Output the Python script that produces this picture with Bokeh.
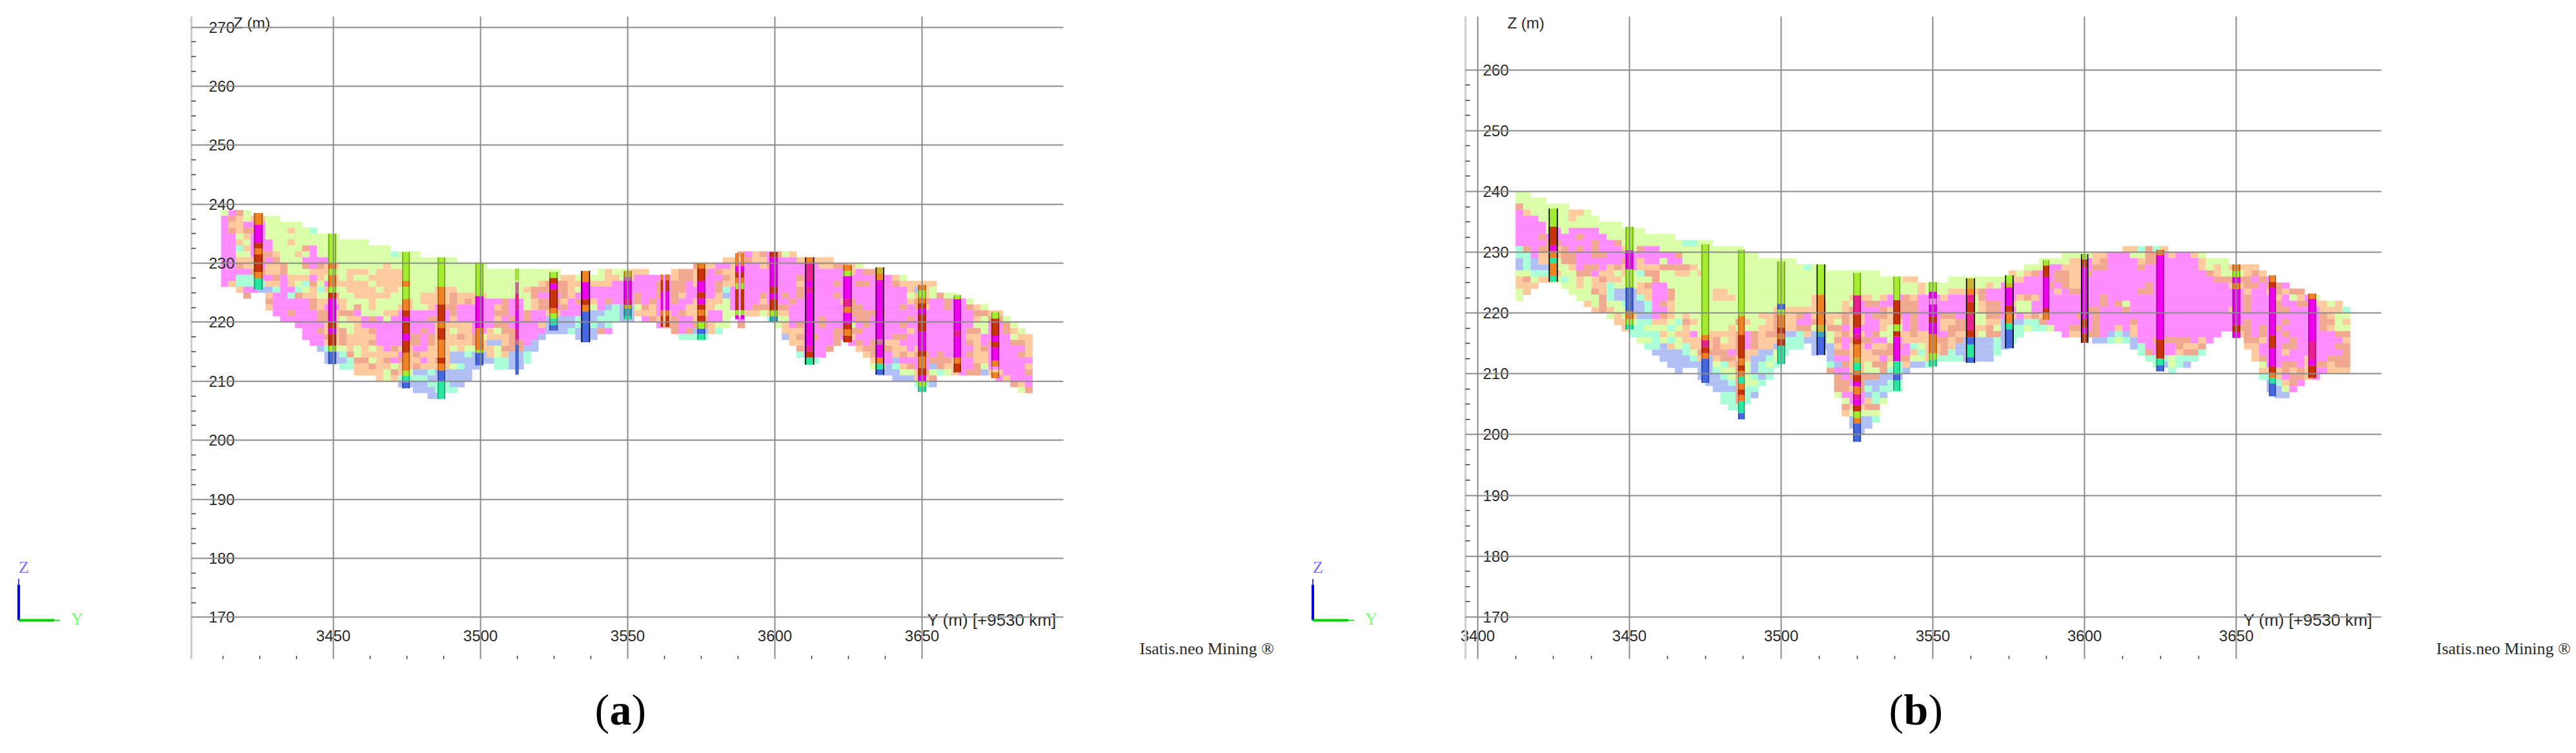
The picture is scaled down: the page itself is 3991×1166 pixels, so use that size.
from bokeh.plotting import figure
from bokeh.layouts import row
from bokeh.models import Range1d, FixedTicker, Label, Arrow, ColumnDataSource
from bokeh.embed import file_html
from bokeh.resources import INLINE

# ---- block model classes -------------------------------------------------
cell_colors = {"G": "#DAFFA8", "O": "#FFCB9E", "S": "#F0A890", "P": "#FF8CFF", "M": "#A8FFD8", "B": "#B0C0F5"}
# ---- drill-hole classes --------------------------------------------------
hole_colors = {"f": "#A2EE2E", "o": "#F08224", "r": "#C9330A", "m": "#EE00EE", "t": "#28E8A0",
               "b": "#4468E0", "h": "#E82090", "y": "#C8B432", "v": "#C87098", "c": "#30A8B8"}

# each row: bench top Z, then "column+class" runs (a run lasts until the next token, "-" = empty)
rows_a = [
 (239, "0G 1P 2S 3G 4-"),
 (238, "0P 1S 2O 3G 4O 6G 8-"),
 (237, "0P 1O 3P 6G 11-"),
 (236, "0P 1S 2O 3S 5P 6G 9O 10G 12M 13-"),
 (235, "0P 2G 3O 4P 6G 16-"),
 (234, "0P 2O 3G 4P 7G 9O 10G 20-"),
 (233, "0P 2M 3O 4P 7G 11S 12P 13G 23-"),
 (232, "0P 2G 4P 5S 7O 8G 10O 11G 12P 13G 23M 24G 27- 70S 71P 72O 73S 74P 75S 76G 77O 78-"),
 (231, "0P 2O 5S 6P 7S 8G 11P 15G 32- 68O 71S 72O 74P 78O 83-"),
 (230, "0P 2S 3O 5P 6O 8S 9G 11S 12P 13S 14O 16G 22O 23G 36- 64S 65O 67P 69O 70P 73O 74S 75P 81O 83S 85O 86G 87-"),
 (229, "0P 4S 6O 8S 9G 12O 15G 17O 20G 21O 25G 46- 51G 52O 53G 55O 58- 61O 62S 64O 65S 66P 67S 68O 70P 85O 86P 87S 89-"),
 (228, "0P 2M 5P 7S 8P 9O 12P 13O 14G 15O 16G 17O 18G 20O 25G 46O 48G 49O 50G 52O 54G 55O 56P 61O 62S 64O 65P 68S 69O 70P 78S 79P 91O 92G 93-"),
 (227, "0P 1O 2M 6O 8P 9O 10G 11M 12S 13G 14P 15O 20G 21O 25G 43O 44S 47O 49P 50O 53P 59S 60P 61S 63P 64O 65P 67S 68O 70P 78O 79P 83S 84P 86S 88P 91S 92O 97-"),
 (226, "2O 3P 5B 7M 8P 10M 11G 12O 13M 14O 15G 17O 21G 22O 24G 29O 32G 41O 42S 47O 48G 49P 59S 60P 61S 63P 67S 68M 69P 78S 79P 93O 94B 95O 96G 97-"),
 (225, "3S 4- 6O 7P 9M 10S 11O 13G 15S 16G 18O 23G 27O 31S 32O 36G 42S 43P 46S 47O 48P 56S 57P 59S 60P 61S 62O 63P 67O 68B 69P 73S 74P 76S 77P 78S 79P 83S 84P 93G 94O 96G 97S 98G 100-"),
 (224, "6S 7P 12S 13O 17G 20O 21G 25O 26G 27O 31S 32O 33S 34O 35P 38S 39P 41G 42O 43S 46O 47P 48S 50O 51P 52S 53P 56S 57P 58S 59P 61S 62P 64O 68G 69P 73O 74P 77S 78P 84O 85S 86P 93O 94S 96P 98S 99P 101G 102-"),
 (223, "6O 7P 12S 13O 14P 16O 17G 18S 19G 20O 21G 24O 26G 28O 29P 30S 32P 37O 38S 39P 41G 42O 43S 45P 46S 47P 50G 51P 52B 53M 54B 56G 57S 58O 59P 63O 67G 69P 72S 77P 85S 87P 92S 93P 94S 95O 96P 98S 99P 101S 102O 103G 104-"),
 (222, "7P 9S 10P 13S 15O 16S 18P 19G 22O 24P 31S 32P 37S 39P 41S 42P 44O 46P 49B 52M 54B 56O 59P 60O 61P 62S 63O 66P 68G 71O 73G 74O 77P 85S 90P 102S 104O 106-"),
 (221, "8P 13S 15O 16G 17O 19P 20S 21P 22G 23P 28S 30P 31O 32P 37O 38P 39S 40P 41S 42P 44B 48M 49B 51M 54B 56- 57P 58S 59O 61S 62P 64O 65S 66P 68G 69- 70P 71- 74M 75G 77P 81S 82P 86S 88P 93S 94P 102O 103G 104S 106G 107-"),
 (220, "10P 14O 16G 18O 19P 29O 34P 37S 39P 43O 44B 48M 49B 50M 51B 52M 53- 59P 60S 62P 64S 66O 67G 69- 70S 71- 75G 76O 77P 78S 79P 81S 82P 85G 86P 87S 88P 92S 93P 102G 104P 106S 107G 108-"),
 (219, "11P 13S 14O 16S 17G 18O 20S 21P 27S 28P 29O 31G 32O 34P 36O 37G 38S 40P 44B 47M 48B 51S 52P 53- 61S 62P 63S 64B 66O 67M 68- 76O 79P 83S 87P 93O 94P 101S 103G 104P 106S 107O 108G 109-"),
 (218, "11P 14S 15O 16S 17O 21P 25S 27P 28S 29O 32S 33O 34S 35G 36O 39S 40P 43B 44- 48B 51- 62M 66- 76B 77O 78S 79P 80S 81P 83S 84P 85O 86P 91S 93P 101O 103P 107G 108O 110-"),
 (217, "12P 14O 16S 17O 20S 21P 25S 27P 28S 29O 34S 35O 36B 38O 39S 41P 42B 43- 77O 79P 83S 84- 85P 86S 87P 88S 89P 90O 92P 101S 102O 103P 104S 105P 107S 109O 110-"),
 (216, "13B 14M 15G 17O 18G 19O 20G 21O 22P 23S 24O 26P 28O 31G 32O 33G 35O 37G 38S 41B 43- 78S 79P 82S 83- 86O 87S 91O 93P 94O 95P 102O 103S 104P 109O 110-"),
 (215, "14B 16M 17S 18G 19O 24P 25O 26S 27O 31B 33M 34B 36O 37G 38O 39B 41M 42- 78M 79P 82- 87O 88S 89P 91O 92S 93O 94S 96P 97S 98P 101S 102O 104P 108S 109O 110-"),
 (214, "14B 17M 18S 20G 21O 22S 23P 24S 25O 27P 28O 29S 30O 31B 37M 39B 41M 42- 79M 81- 88O 89P 91B 92P 96S 99O 100P 102O 104P 110-"),
 (213, "16M 18O 20S 21O 23G 24O 26S 27O 31G 32M 33B 35- 37M 39B 41- 88G 89M 90B 91M 92O 93S 94P 96B 97S 98O 100P 102S 103G 104P 109O 110-"),
 (212, "18O 22G 23S 24O 25G 26B 28M 29B 34- 89B 92G 94O 95S 96G 97M 98G 99O 100P 101S 103B 104O 106P 109S 110-"),
 (211, "21O 22G 23O 24M 28B 34- 91B 94O 96S 97- 105P 106O 107P 110-"),
 (210, "24B 28M 31B 33- 94M 96B 97- 107S 108O 109P 110-"),
 (209, "26B 29M 32- 108G 109S 110-"),
 (208, "28B 30-"),
]

rows_b = [
 (240, "0G 2-"),
 (239, "0G 4-"),
 (238, "0S 1G 7-"),
 (237, "0P 1O 2G 7O 9G 10-"),
 (236, "0P 3G 7O 8G 11-"),
 (235, "0P 4G 14-"),
 (234, "0P 4G 5P 6G 7P 11G 17-"),
 (233, "0P 3S 4P 8S 9P 12G 21-"),
 (232, "0P 4S 6P 10S 11P 13S 14G 22M 24G 26-"),
 (231, "0M 1S 2P 3S 5O 6S 7P 8S 9P 10S 11P 14O 15G 16S 17P 19G 30- 80O 82M 83S 84M 85O 86-"),
 (230, "0M 2P 3O 6S 8P 10S 12P 21S 22G 32- 72G 76O 78P 81G 83S 85P 86O 87P 89O 90G 91-"),
 (229, "0B 1M 2B 3O 5G 6S 8P 14S 15P 16O 17P 19G 20P 22G 37- 69G 73O 75P 76O 77S 78P 82O 83S 85P 90O 91G 94-"),
 (228, "0B 1M 2B 5G 7O 8P 9S 11P 12O 13S 14O 15P 16O 19S 23O 24G 38M 39G 41- 67G 70P 72O 75P 76S 78P 82S 83P 90O 91G 92O 93G 94O 98-"),
 (227, "0G 2M 5O 6G 8S 10P 11O 13G 14O 15G 16M 17S 19G 21O 23G 24O 25G 48- 65O 66G 67O 68S 69P 71S 73O 75S 76P 91S 92O 93G 96O 97S 98O 99-"),
 (226, "0O 1S 2G 3O 5G 6M 7G 8O 9G 10O 11S 12O 14G 18S 19G 51O 53- 57G 65O 67P 71S 73O 75P 92S 95S 97P 98S 99P 100-"),
 (225, "0O 3- 6G 8O 9G 10O 12M 13G 16O 17S 18P 20G 53O 54G 62O 63G 64P 70S 71P 72S 73O 75P 83S 84P 94O 96S 98P 99S 101P 102-"),
 (224, "0G 1O 2- 7G 10S 11O 12M 13B 16O 18P 20S 21G 26O 28G 53O 54G 57O 61S 62P 71O 72P 73S 75P 82S 84P 96O 97P 99O 100S 101O 102S 104-"),
 (223, "0G 1- 8G 11S 12M 13B 16M 17O 18P 20S 21G 26O 29G 39O 40G 44O 47G 48O 49P 51S 52O 53P 56O 57P 60G 61S 62P 66O 67S 68O 69P 77S 78P 96S 97P 100O 101P 102G 103O 104P 105G 106-"),
 (222, "9O 10G 11S 12G 14M 15B 17M 18P 19S 20O 21G 39O 41G 43O 44G 45P 46S 48P 50S 53P 60G 61O 62S 64P 65O 66G 68P 77S 78P 79S 80G 81P 96S 97P 100S 101P 103S 105O 107G 108O 109-"),
 (221, "10O 11S 12O 13G 15B 17M 18P 20O 21G 34O 41G 43O 44S 45P 48S 49O 50S 53P 60G 61O 62S 64P 66G 68P 75S 77P 80S 81P 94O 95P 96S 97P 100S 102P 106O 109M 110-"),
 (220, "12G 13O 14G 15O 16B 18P 19S 20O 21G 22O 23G 32O 34S 35O 37S 38P 39O 43S 44O 46P 47S 49O 50S 51P 52S 53P 56S 58P 60G 62S 64P 65O 66P 67O 68S 69O 70P 74S 75P 76S 77P 106S 107O 108G 110-"),
 (219, "13O 15G 16M 18O 20G 21M 22S 23O 24G 29S 30O 31G 33O 34S 35O 37P 39S 41O 42G 43S 44O 46P 48O 51P 52S 53P 56O 58S 60G 62O 64B 67M 69S 70P 76S 77P 81S 82P 96S 97P 101S 102P 106S 108G 109O 110-"),
 (218, "14O 15M 17G 20M 21G 22O 23G 28O 29G 32O 34S 35O 37S 39G 41S 43P 44O 45P 48O 49G 51P 52S 53P 56O 57S 60O 62S 63G 64B 65M 67G 68M 70G 71P 73S 75P 76S 77P 79O 80P 81O 82P 95S 97P 98S 99P 100S 101P 106S 107O 108G 110-"),
 (217, "15M 19O 20G 21O 23P 24G 25O 29S 30P 31S 32O 33S 35B 37M 38O 39B 41G 42O 43S 44O 46P 47S 48G 50O 52S 53O 55P 57S 58O 61G 62S 64B 65M 67- 72P 73O 75S 77P 78B 79M 80B 81O 82P 93- 95O 96S 97P 98S 99P 101S 102P 108S 110-"),
 (216, "16G 18M 19G 20M 21G 22O 26S 27G 28O 29S 30P 31S 32O 35M 38B 41G 42S 43P 44S 47P 49G 50P 51O 55S 57O 58S 59B 63M 64B 65M 66- 76B 78M 79G 80M 81B 82P 84S 89P 90O 91P 92- 96S 98O 99P 102S 103P 109O 110-"),
 (215, "17M 19B 20O 21G 22M 23O 26S 27O 29S 30P 31S 32O 34B 35M 38- 39B 42O 43P 44O 46P 47O 49S 51P 52M 53G 54O 56S 57O 58B 63M 64B 65- 81B 82M 83P 87S 88O 90S 91- 96O 98P 101S 103P 108S 110-"),
 (214, "18B 22M 23G 24S 28P 29S 30O 32B 34G 35M 36- 39B 40- 41B 42S 44O 47S 50P 52O 53M 54O 56S 57M 58B 63M 64- 82M 83S 84P 87O 88S 90M 91- 97O 98P 101O 102P 109S 110-"),
 (213, "19B 23M 24O 25B 26O 27S 29O 31B 33M 34G 35- 41B 42P 44O 48P 49O 50S 52G 54O 55M 59B 63- 83M 86G 87M 90- 97O 98S 99P 104O 105P 107S 110-"),
 (212, "20B 26G 27M 28O 29S 30G 31B 32M 33G 34M 35- 41M 42B 43S 44O 46G 47S 49G 50M 51O 52B 54M 55- 84M 85B 86G 87M 88B 89- 98G 99P 101S 103P 104O 105S 107O 108S 110-"),
 (211, "21B 22- 24B 26M 27G 29S 30G 31B 32M 34- 41S 42P 44O 46G 48S 49M 51B 52- 86M 87- 98O 101S 102O 103S 104O 105P 107O 110-"),
 (210, "24B 27M 28G 29S 30G 31M 32B 33M 34- 42S 43P 44S 48B 51- 98M 100O 101P 102S 104O 105P 106-"),
 (209, "25B 28M 29S 30G 32M 33- 42S 44P 45S 46B 49M 51- 99B 100M 101O 102S 103P 104-"),
 (208, "26B 29S 30M 32- 42S 44O 45S 46M 47B 48M 51- 99B 101G 102P 103-"),
 (207, "27M 29S 30M 31B 32- 42G 43P 46B 47M 48B 49- 100B 102-"),
 (206, "27M 29S 30M 31- 43G 44P 46O 47M 48G 49-"),
 (205, "28M 30- 43S 44O 46S 48-"),
 (204, "43O 44G 48-"),
 (203, "44B 46B 47M 48-"),
 (202, "44B 47-"),
 (201, "45B 46-"),
]

# drill holes: Y, diameter on the plot, collar Z, black rim?, then class + Z of the segment's base
holes_a = [
 (3424.5, 3.0, 238.5, 0, "o236.5 m233.4 r232.5 o231.5 r228.5 o227.4 t225.5"),
 (3449.6, 2.7, 235.0, 0, "f230 o229 f228 o226 f225 r224 m220 r219 m218 r216 f215 b212.9"),
 (3474.65, 2.6, 231.9, 0, "f227 o226 f223.9 o222 r220.9 m220 r218 m216.9 r214.8 o211.8 f210.9 t209.8 b208.8"),
 (3486.7, 2.6, 231.0, 0, "f226 o223 r220 o219 r217 o214 r213 o211.8 b210 t207"),
 (3499.6, 2.7, 230.0, 0, "f224.4 m219 o215.3 f214.8 b212.7"),
 (3512.4, 1.1, 229.1, 0, "f227.1 _226.8 v224.9 h222.1 m218.8 h217 v216.2 b211.1"),
 (3524.8, 2.9, 228.5, 0, "f227.5 r226.5 m225.5 r222.4 o221.5 f220.6 t219.5 b218.6"),
 (3535.7, 3.0, 228.7, 1, "o226.8 m223.9 r222.9 o221.8 b216.6"),
 (3550.0, 2.7, 228.7, 0, "y227.7 v227 m223.9 h222.9 y222.3 c221 t220.5"),
 (3561.6, 0.75, 228.1, 0, "o227.1 r225.2 m222 o221.1 r219.2"),
 (3563.5, 1.2, 228.1, 0, "o227.1 r225.2 m222 o221.1 r219.2"),
 (3575.0, 2.7, 230.0, 0, "o229.1 r227 m225.1 r224 m223 r222.1 o221.1 r220 f218.9 b218 t217"),
 (3587.1, 1.1, 231.7, 0, "o229.5 m228.5 r227.5 o226.6 f225.6 r222 f221.2 m220.5"),
 (3589.0, 1.1, 231.7, 0, "o229.5 m228.5 r227.5 o226.6 f225.6 r222 f221.2 m220.5"),
 (3599.6, 2.7, 231.9, 0, "r231 m226 r224.9 m223.9 r222 f221 c220"),
 (3611.8, 3.1, 231.0, 1, "o230.1 h227 m226 h225 m216 h215 r214 t212.8"),
 (3624.7, 2.9, 229.7, 0, "o228.7 f227.8 m223.9 h222.6 o221.6 m219.7 r218.8 o217.7 r216.6"),
 (3635.7, 2.9, 229.3, 1, "y228.2 o227.1 m217.1 v216.2 m214 o213 t212 b211.1"),
 (3650.0, 2.7, 226.3, 0, "o225.4 f224.1 o223.2 r222.3 m221.4 r218.4 m215.2 r214.2 o212.2 r211 m210 f209.1 t208.2"),
 (3662.0, 2.5, 224.6, 0, "f223.9 m218.6 h217.6 m214 o213 r211.5"),
 (3674.9, 2.7, 221.7, 0, "f220.6 r217.7 m216.7 r215.7 m213.5 o212.5 _211.5 o210.5"),
]

holes_b = [
 (3424.9, 3.0, 237.2, 1, "f234.2 r231.1 m230.2 o229.1 t228.2 o226.1 t225.15"),
 (3450.0, 2.6, 234.2, 0, "f230.3 m227.2 f224.2 b220.3 o219 f218.1 t217.3"),
 (3475.0, 2.6, 231.3, 0, "f216.4 o215.5 h214.4 r213.4 o212.5 b208.5"),
 (3486.9, 2.2, 230.4, 0, "f219.5 o216.4 r212.5 o211.4 r210.5 o209.5 t208.4 o207.4 r206.5 o205.5 t203.5 b202.5"),
 (3500.0, 2.6, 228.5, 0, "f221.5 b220.6 f219.7 o217.6 r216.6 o215.7 r214.6 t211.6"),
 (3513.1, 2.8, 228.0, 1, "f223 o218 y216.9 c216.1 b213.1"),
 (3525.0, 2.6, 226.6, 0, "f222.9 h219.7 r217.6 m216.5 h215.7 r214.8 o212.7 y211.8 t210.5 o209.8 r208.7 m207.9 o206.6 h205.8 m204.8 r203.8 f202.7 o201.8 b198.8"),
 (3538.1, 2.3, 226.0, 0, "f222.1 r218.1 f217 r216.1 m212.1 t209.9 b208.9 t207.2"),
 (3550.0, 2.6, 225.1, 0, "f223.5 m222.4 _221.4 m219.4 r218.4 m216.5 o213.4 f212.3 t211.2"),
 (3562.4, 3.0, 225.7, 1, "y224 o223 h221.8 r219.7 h217.1 r216 b214.8 t212.7 b211.8"),
 (3575.2, 2.8, 226.2, 1, "f224.9 y224.2 m221.2 r220.2 o218.3 t217.3 b214.2"),
 (3587.3, 2.1, 228.7, 0, "f227.8 r225.9 m220.8 r219.9 o218.9"),
 (3600.0, 2.4, 229.7, 1, "f228.8 r227.5 m219 r217.6 m216.6 r215.1"),
 (3624.9, 2.6, 230.4, 0, "o229.5 m215.6 r212.5 t211.4 b210.4"),
 (3650.0, 2.6, 228.0, 0, "o226.9 f225.9 m224.9 o223.9 m218 r216.9 m215.9"),
 (3661.9, 2.3, 226.2, 0, "o225.1 r224.2 m216.3 r214.2 m211.2 r210.2 o209.3 t208.4 b206.3"),
 (3675.0, 2.6, 223.2, 0, "o222.3 m215.3 h212.3 m211.3 r209.3"),
]

z_ticks_a = [170, 180, 190, 200, 210, 220, 230, 240, 250, 260, 270]
z_ticks_b = [170, 180, 190, 200, 210, 220, 230, 240, 250, 260]
y_ticks_a = [3450, 3500, 3550, 3600, 3650]
y_ticks_b = [3400, 3450, 3500, 3550, 3600, 3650]
y_label = "Y (m) [+9530 km]"
z_label = "Z (m)"
credit = "Isatis.neo Mining \u00ae"

GRID = "#8A8A8A"
TXT = "#2A2A2A"
HEIGHT = 1150


def panel(rows, holes, zticks, yticks, fig_left, fig_w, frame_l, frame_r, x_ref, x_scale, z_ref_val, z_ref_px, z_scale,
          col0, colw, tag, tag_x, is_a):
    """Pixel arguments are in image coordinates of the reference; the frame fills the whole figure."""
    top_px, bot_px = 25.0, 1020.0
    X = lambda px: x_ref + (px - x_scale[0]) / x_scale[1]
    Z = lambda py: z_ref_val - (py - z_ref_px) / z_scale
    p = figure(width=fig_w, height=HEIGHT, output_backend="svg", toolbar_location=None,
               x_range=Range1d(X(fig_left), X(fig_left + fig_w)), y_range=Range1d(Z(HEIGHT), Z(0)),
               min_border=0)
    p.outline_line_color = None
    p.background_fill_color = "white"
    p.border_fill_color = "white"

    # cells
    left, right, top, bottom, color = [], [], [], [], []
    for ztop, runs in rows:
        toks = runs.split()
        for a, b in zip(toks, toks[1:]):
            if a[-1] == "-":
                continue
            s, e = int(a[:-1]), int(b[:-1])
            left.append(col0 + s * colw)
            right.append(col0 + e * colw)
            top.append(ztop)
            bottom.append(ztop - 1)
            color.append(cell_colors[a[-1]])
    p.quad(left="l", right="r", top="t", bottom="b", fill_color="c", line_color="c", line_width=0.4,
           source=ColumnDataSource(dict(l=left, r=right, t=top, b=bottom, c=color)))

    # drill holes
    left, right, top, bottom, color = [], [], [], [], []
    sl, sr, st, sb = [], [], [], []
    rl, rr, rt, rb = [], [], [], []
    for x, w, ztop, rim, segs in holes:
        z = ztop
        for tok in segs.split():
            base = float(tok[1:])
            if tok[0] != "_":
                left.append(x - w / 2)
                right.append(x + w / 2)
                top.append(z)
                bottom.append(base)
                color.append(hole_colors[tok[0]])
            z = base
        for a, b in ((x - w / 2, x - w * 0.36), (x + w * 0.36, x + w / 2)):
            sl.append(a); sr.append(b); st.append(ztop); sb.append(z)
        if rim:
            rl.append(x + w / 2 - 0.3); rr.append(x + w / 2); rt.append(ztop); rb.append(z)
            rl.append(x - w / 2); rr.append(x - w / 2 + 0.3); rt.append(ztop); rb.append(z)
    p.quad(left="l", right="r", top="t", bottom="b", fill_color="c", line_color=None,
           source=ColumnDataSource(dict(l=left, r=right, t=top, b=bottom, c=color)))
    p.quad(left=sl, right=sr, top=st, bottom=sb, fill_color="#000000", fill_alpha=0.32, line_color=None)
    if rl:
        p.quad(left=rl, right=rr, top=rt, bottom=rb, fill_color="#000000", line_color=None)

    # axes: drawn inside the frame at their fixed places
    xa, ya = p.xaxis[0], p.yaxis[0]
    xa.fixed_location = Z(bot_px)
    ya.fixed_location = X(frame_l)
    ya.bounds = (Z(bot_px), Z(top_px))
    minor_y = [yy for yy in [3412.5 + 12.5 * i for i in range(19)] if yy not in yticks]
    xa.ticker = FixedTicker(ticks=yticks, minor_ticks=minor_y)
    minor_z = [min(zticks) + 2.5 * i for i in range(int((max(zticks) - min(zticks)) / 2.5) + 1)]
    minor_z = [m for m in minor_z if m not in zticks]
    ya.ticker = FixedTicker(ticks=zticks, minor_ticks=minor_z)
    xa.axis_line_color = None
    xa.major_tick_in = 0; xa.major_tick_out = 0
    xa.minor_tick_in = 5; xa.minor_tick_out = 0
    xa.minor_tick_line_color = "#333333"; xa.minor_tick_line_width = 1.5
    xa.major_label_standoff = -45
    ya.axis_line_color = "#CCCCCC"; ya.axis_line_width = 3
    ya.major_tick_in = 0; ya.major_tick_out = 0
    ya.minor_tick_in = 7; ya.minor_tick_out = 0
    ya.minor_tick_line_color = "#333333"; ya.minor_tick_line_width = 1.5
    ya.major_label_standoff = -67
    for ax in (xa, ya):
        ax.major_label_text_font = "Liberation Sans"
        ax.major_label_text_font_size = "24px"
        ax.major_label_text_color = TXT
    xg, yg = p.xgrid[0], p.ygrid[0]
    for g in (xg, yg):
        g.grid_line_color = GRID
        g.grid_line_width = 2
        g.level = "overlay"
    xg.ticker = xa.ticker
    yg.ticker = ya.ticker
    xg.cross_bounds = (Z(bot_px), Z(top_px))
    yg.cross_bounds = (X(frame_l), X(frame_r))

    def put(txt, px, py, font="Liberation Sans", size="24px", color=TXT, style="normal"):
        p.add_layout(Label(x=X(px), y=Z(py), text=txt, text_font=font, text_font_size=size, text_color=color,
                           text_font_style=style, text_baseline="middle", text_align="left"))

    put(z_label, 361 if is_a else 2335, 35)
    put(y_label, 1436 if is_a else 3475, 959, size="26px")
    put(credit, 1765 if is_a else 3774, 1004, font="Liberation Serif", size="26px")

    # (a) / (b) caption
    serif = dict(font="Liberation Serif", size="68px", color="#000000")
    put("(", tag_x, 1098, **serif)
    put(tag, tag_x + 23, 1098, style="bold", **serif)
    put(")", tag_x + (57 if tag == "a" else 61), 1098, **serif)

    # orientation triad
    tx = 28.5 if is_a else 28.5 + 2005
    for x0, y0, x1, y1, c, lw in ((tx, 960, tx, 905, "#0000E0", 4), (tx, 905, tx, 896, "#0000E0", 1.5),
                                   (tx, 960, tx + 55, 960, "#00D000", 4), (tx + 55, 960, tx + 64, 960, "#00D000", 1.5)):
        p.add_layout(Arrow(end=None, x_start=X(x0), y_start=Z(y0), x_end=X(x1), y_end=Z(y1), line_color=c, line_width=lw))
    put("Z", tx, 878, font="Liberation Serif", size="26px", color="#7070FF")
    put("Y", tx + 81, 958, font="Liberation Serif", size="26px", color="#70FF70")
    return p


pa = panel(rows_a, holes_a, z_ticks_a, y_ticks_a, fig_left=0, fig_w=2000, frame_l=296, frame_r=1647,
           x_ref=3450, x_scale=(516.0, 4.56), z_ref_val=170, z_ref_px=955.4, z_scale=9.139,
           col0=3411.9, colw=2.506, tag="a", tag_x=921, is_a=True)
pb = panel(rows_b, holes_b, z_ticks_b, y_ticks_b, fig_left=2000, fig_w=1983, frame_l=2270, frame_r=3689,
           x_ref=3450, x_scale=(2524.0, 4.7015), z_ref_val=240, z_ref_px=296.0, z_scale=9.41,
           col0=3412.5, colw=2.5, tag="b", tag_x=2926, is_a=False)

layout = row(pa, pb, spacing=0)
open("out.html", "w").write(file_html(layout, INLINE))
